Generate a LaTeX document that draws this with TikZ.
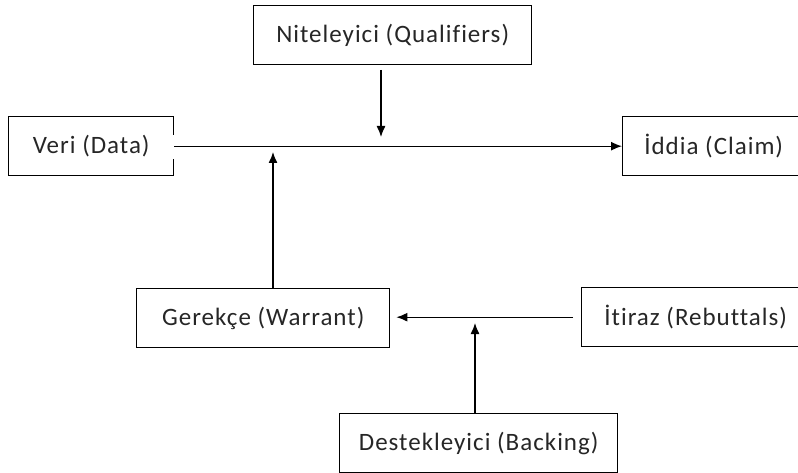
\documentclass[tikz,border=0pt]{standalone}
\usepackage{fontspec}
\setmainfont{Carlito}[LetterSpace=4,Ligatures=NoCommon]
\usetikzlibrary{arrows.meta}
\begin{document}
\begin{tikzpicture}[x=1pt,y=-1pt,
  box/.style={draw, line width=1.4pt, inner sep=0pt, anchor=north west,
    minimum height=59pt, text=black!85, font=\fontsize{25}{28}\selectfont},
  arr/.style={line width=1.3pt, -{Latex[length=11pt,width=9pt]}}]
\useasboundingbox (0,0) rectangle (798,473);
\clip (0,0) rectangle (798,473);
\node[box, minimum width=278pt] (qual) at (253,5) {\raisebox{3pt}{Niteleyici (Qualifiers)}};
\node[box, minimum width=165pt] (data) at (8,116) {\raisebox{3pt}{Veri (Data)}};
\node[box, minimum width=182pt] (claim) at (622,116) {\raisebox{3pt}{İddia (Claim)}};
\node[box, minimum width=253pt] (warr) at (136,288) {\raisebox{3pt}{Gerekçe (Warrant)}};
\node[box, minimum width=228pt] (reb) at (581,287) {\raisebox{3pt}{İtiraz (Rebuttals)}};
\node[box, minimum width=278pt] (back) at (339,413) {\raisebox{3pt}{Destekleyici (Backing)}};
% gap in the right edge of the data box
\fill[white] (169,135) rectangle (177,159);
\coordinate (q1) at (381,70);
\coordinate (q2) at (381,137);
\coordinate (w1) at (273,152);
\coordinate (b1) at (475,323);
\draw[arr] (data.east) -- (claim.west);
\draw[arr] (q1) -- (q2);
\draw[arr] (warr.north -| w1) -- (w1);
\draw[arr, shorten <=8pt, shorten >=6pt] (reb.west) -- (reb.west -| warr.east);
\draw[arr] (back.north -| b1) -- (b1);
\end{tikzpicture}
\end{document}
